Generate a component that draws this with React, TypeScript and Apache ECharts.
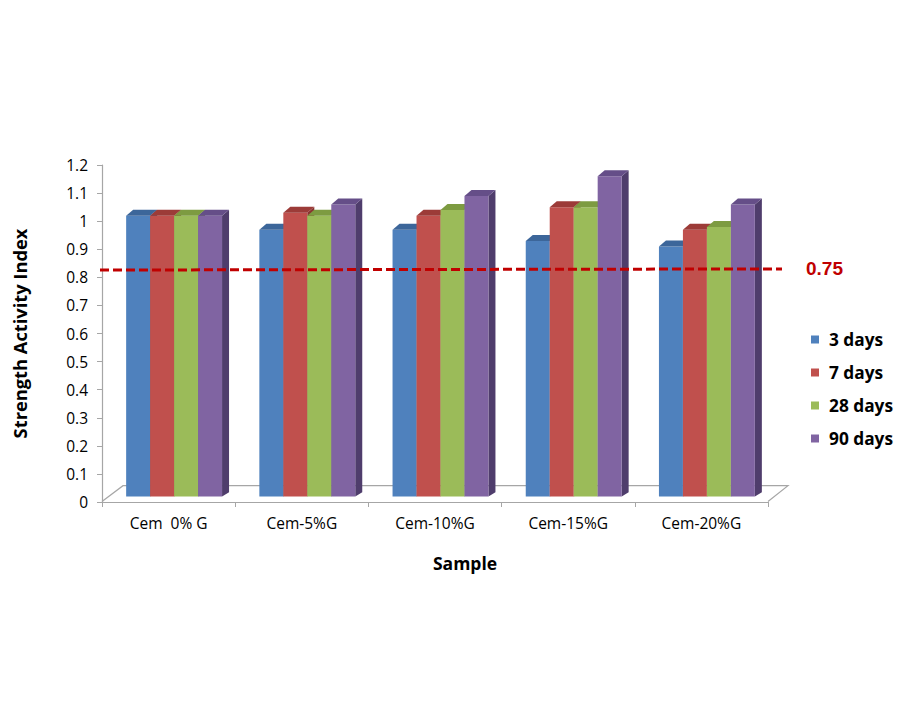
import React, { useEffect, useRef } from "react";
import * as echarts from "echarts";

const categories = ["Cem  0% G", "Cem-5%G", "Cem-10%G", "Cem-15%G", "Cem-20%G"];
const seriesNames = ["3 days", "7 days", "28 days", "90 days"];
const days3 = [1.0, 0.95, 0.95, 0.91, 0.89];
const days7 = [1.0, 1.01, 1.0, 1.03, 0.95];
const days28 = [1.0, 1.0, 1.02, 1.03, 0.96];
const days90 = [1.0, 1.04, 1.07, 1.14, 1.04];
const yTicks = { min: 0, max: 1.2, interval: 0.1 };
const thresholdLine = [0.826, 0.83];
const thresholdLabel = "0.75";

const frontColors = ["#4F81BD", "#C0504D", "#9BBB59", "#8064A2"];
const topColors = ["#3C669A", "#9C3B38", "#7D9B41", "#654E88"];
const sideColors = ["#365B88", "#8A3431", "#6F8A39", "#4F3D6C"];

const FONT = "'Open Sans', 'Noto Sans', sans-serif";
const DX = 7;
const DY = -6;
const SHIFT_X = 5.5;
const SHIFT_Y = -5.5;

function makeRender(si: number) {
  return (params: any, api: any) => {
    const cat = api.value(0);
    const v = api.value(1);
    const top = api.coord([cat, v]);
    const base = api.coord([cat, 0]);
    const band = api.size([1, 0])[0];
    const w = band * 0.18;
    const x0 = top[0] - 2 * w + si * w + SHIFT_X;
    const yt = top[1] + SHIFT_Y;
    const yb = base[1] + SHIFT_Y;
    return {
      type: "group",
      children: [
        {
          type: "polygon",
          shape: { points: [[x0 + w, yt], [x0 + w + DX, yt + DY], [x0 + w + DX, yb + DY * 0.7], [x0 + w, yb]] },
          style: { fill: sideColors[si] },
        },
        {
          type: "rect",
          shape: { x: x0, y: yt, width: w, height: yb - yt },
          style: { fill: frontColors[si] },
        },
        {
          type: "polygon",
          shape: { points: [[x0, yt], [x0 + DX, yt + DY], [x0 + w + DX, yt + DY], [x0 + w, yt]] },
          style: { fill: topColors[si] },
        },
      ],
    };
  };
}

export default function App() {
  const ref = useRef<HTMLDivElement>(null);
  useEffect(() => {
    document.body.style.margin = "0";
    const chart = echarts.init(ref.current!, null, { renderer: "svg" });
    const allSeries = [days3, days7, days28, days90];
    const gridTop = 165;
    const gridBottom = 218;
    chart.setOption({
      animation: false,
      backgroundColor: "#ffffff",
      textStyle: { fontFamily: FONT },
      grid: [
        { left: 102, right: 132, top: gridTop, bottom: gridBottom },
        { left: 100, right: 118, top: gridTop, bottom: gridBottom },
      ],
      graphic: [
        {
          type: "polyline",
          z: 0,
          shape: { points: [[102, 501.5], [123, 485.7], [788, 485.7], [768, 501.5]] },
          style: { stroke: "#A6A6A6", fill: "none", lineWidth: 1.2 },
        },
      ],
      legend: {
        orient: "vertical",
        left: 806,
        top: 326,
        itemWidth: 8,
        itemHeight: 8,
        itemGap: 16,
        icon: "rect",
        data: seriesNames,
        textStyle: {
          fontFamily: FONT,
          fontWeight: "bold",
          fontSize: 17.3,
          color: "#000",
          padding: [0, 0, 0, 5],
        },
      },
      xAxis: [
        {
          type: "category",
          gridIndex: 0,
          data: categories,
          axisLine: { lineStyle: { color: "#A6A6A6", width: 1.2 } },
          axisTick: { show: true, length: 5, lineStyle: { color: "#A6A6A6" } },
          axisLabel: { color: "#000", fontSize: 15.5, margin: 13, fontFamily: FONT },
          name: "Sample",
          nameLocation: "middle",
          nameGap: 52,
          nameTextStyle: {
            fontFamily: FONT,
            fontWeight: "bold",
            fontSize: 17.5,
            color: "#000",
            padding: [0, 0, 0, 60],
          },
        },
        { type: "value", gridIndex: 1, min: 0, max: 1, show: false },
      ],
      yAxis: [
        {
          type: "value",
          gridIndex: 0,
          min: yTicks.min,
          max: yTicks.max,
          interval: yTicks.interval,
          axisLine: { show: true, lineStyle: { color: "#A6A6A6", width: 1.2 } },
          axisTick: { show: true, length: 5, lineStyle: { color: "#A6A6A6" } },
          splitLine: { show: false },
          axisLabel: {
            color: "#000",
            fontSize: 15.5,
            margin: 14,
            fontFamily: FONT,
            formatter: (v: number) => String(Math.round(v * 10) / 10),
          },
          name: "Strength Activity Index",
          nameLocation: "middle",
          nameGap: 74,
          nameRotate: 90,
          nameTextStyle: { fontFamily: FONT, fontWeight: "bold", fontSize: 18.3, color: "#000" },
        },
        { type: "value", gridIndex: 1, min: yTicks.min, max: yTicks.max, show: false },
      ],
      series: [
        ...allSeries.map((vals, si) => ({
          type: "custom",
          name: seriesNames[si],
          xAxisIndex: 0,
          yAxisIndex: 0,
          itemStyle: { color: frontColors[si] },
          encode: { x: 0, y: 1 },
          data: vals.map((v, i) => [i, v]),
          renderItem: makeRender(si),
        })),
        {
          type: "line",
          name: "threshold",
          xAxisIndex: 1,
          yAxisIndex: 1,
          symbol: "none",
          z: 10,
          data: [
            [0, thresholdLine[0]],
            [1, thresholdLine[1]],
          ],
          lineStyle: { color: "#C00000", width: 3, type: [9, 4] },
          endLabel: {
            show: true,
            formatter: thresholdLabel,
            color: "#C00000",
            fontWeight: "bold",
            fontSize: 19,
            fontFamily: "'Liberation Sans', Arial, sans-serif",
            distance: 24,
          },
        },
      ],
    });
    return () => chart.dispose();
  }, []);
  return <div ref={ref} style={{ position: "fixed", left: 0, top: 0, width: 900, height: 720 }} />;
}
